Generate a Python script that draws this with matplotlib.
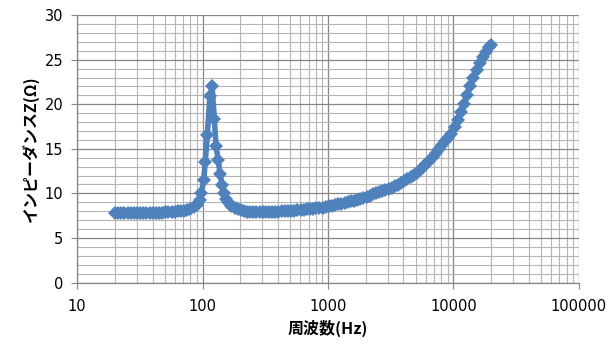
import matplotlib
matplotlib.use('Agg')
import matplotlib.pyplot as plt
from matplotlib.ticker import LogLocator, MultipleLocator, NullFormatter

# measured frequency points (Hz)
freq = [20, 21.2, 22.4, 23.8, 25.2, 26.7, 28.3, 30, 31.7, 33.6, 35.6, 37.8,
        40, 42.4, 44.9, 47.6, 50.4, 53.4, 56.6, 59.9, 63.5, 67.3, 71.3, 75.5,
        80, 84.8, 89.8, 95.1, 98, 102, 105, 109, 114.5, 119, 124, 128, 133,
        138, 143, 148, 154, 160, 170, 180, 190, 202, 214, 226, 240, 254, 269,
        285, 302, 320, 339, 359, 381, 403, 427, 453, 480, 508, 538, 570, 604,
        640, 678, 718, 761, 806, 854, 905, 959, 1016, 1076, 1140, 1208, 1280,
        1356, 1437, 1522, 1613, 1709, 1810, 1918, 2032, 2153, 2281, 2416,
        2560, 2712, 2874, 3044, 3226, 3417, 3620, 3836, 4064, 4305, 4561,
        4833, 5120, 5424, 5747, 6089, 6451, 6834, 7241, 7671, 8127, 8611,
        9123, 9665, 10240, 10849, 11494, 12177, 12901, 13669, 14482, 15343,
        16255, 17222, 18245, 19330, 20000]

# impedance (ohm)
imp = [7.75, 7.75, 7.76, 7.76, 7.77, 7.77, 7.78, 7.78, 7.79, 7.79, 7.8, 7.8,
       7.81, 7.82, 7.83, 7.84, 7.86, 7.88, 7.9, 7.93, 7.97, 8.02, 8.08, 8.16,
       8.28, 8.45, 8.75, 9.3, 10.1, 11.5, 13.5, 16.5, 20.9, 22.0, 18.4, 15.3,
       13.8, 12.2, 10.9, 10.0, 9.4, 9.0, 8.6, 8.35, 8.2, 8.1, 8.0, 7.95, 7.92,
       7.9, 7.88, 7.87, 7.87, 7.87, 7.88, 7.9, 7.92, 7.94, 7.97, 8.0, 8.02,
       8.05, 8.08, 8.1, 8.13, 8.16, 8.2, 8.23, 8.27, 8.31, 8.36, 8.41, 8.46,
       8.55, 8.62, 8.7, 8.78, 8.86, 8.94, 9.02, 9.1, 9.2, 9.3, 9.4, 9.52,
       9.64, 9.76, 9.88, 10.0, 10.12, 10.25, 10.38, 10.5, 10.65, 10.8, 10.97,
       11.15, 11.35, 11.57, 11.8, 12.05, 12.32, 12.6, 12.92, 13.25, 13.62,
       14.05, 14.5, 14.95, 15.4, 15.85, 16.25, 16.7, 17.4, 18.2, 19.1, 20.0,
       21.0, 22.0, 23.0, 23.8, 24.6, 25.3, 25.9, 26.4, 26.7]

x_ticks = [10, 100, 1000, 10000, 100000]
x_labels = ['10', '100', '1000', '10000', '100000']

blue = '#4F81BD'
grid_major = '#868686'
grid_minor = '#B4B4B4'

fig = plt.figure(figsize=(6.13, 3.51), dpi=100)
ax = fig.add_axes([0.126, 0.195, 0.818, 0.762])

ax.plot(freq, imp, color=blue, linewidth=4, marker='D', markersize=7.5,
        markeredgewidth=0, zorder=3)

ax.set_xscale('log')
ax.set_xlim(10, 100000)
ax.set_ylim(0, 30)
ax.set_xticks(x_ticks)
ax.set_xticklabels(x_labels)
ax.xaxis.set_minor_locator(LogLocator(base=10, subs=range(2, 10)))
ax.xaxis.set_minor_formatter(NullFormatter())
ax.yaxis.set_major_locator(MultipleLocator(5))
ax.yaxis.set_minor_locator(MultipleLocator(1))

ax.grid(True, which='major', color=grid_major, linewidth=0.9)
ax.grid(True, which='minor', color=grid_minor, linewidth=0.8)
ax.set_axisbelow(True)

for side in ['top', 'right']:
    ax.spines[side].set_visible(False)
for side in ['left', 'bottom']:
    ax.spines[side].set_color(grid_major)
    ax.spines[side].set_linewidth(0.9)

ax.tick_params(which='major', direction='out', length=4, color=grid_major,
               labelsize=10.5, pad=6)
ax.tick_params(which='minor', length=0)
ax.tick_params(axis='x', pad=8)

jp = ['Noto Sans CJK JP', 'DejaVu Sans']
ax.set_xlabel('周波数(Hz)', family=jp, fontsize=11.5, fontweight='bold',
              labelpad=4)
ax.set_ylabel('インピーダンスZ(Ω)', family=jp, fontsize=11.5,
              fontweight='bold', labelpad=4)

fig.savefig('out.png', dpi=100)
